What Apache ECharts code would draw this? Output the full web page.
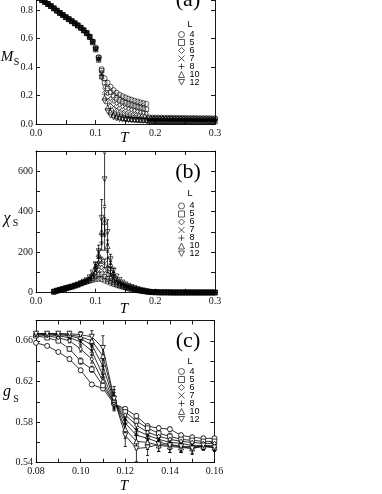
<!DOCTYPE html>
<html><head><meta charset="utf-8">
<script src="https://cdn.jsdelivr.net/npm/echarts@6/dist/echarts.min.js"></script>
<style>html,body{margin:0;padding:0;background:#fff}#c{width:382px;height:494px}</style>
</head><body><div id="c"></div>
<script>
// ---------- DATA ----------
const sizes = ['4','5','6','7','8','10','12'];

// Panel (a): M_S vs T
const Ta = [0.010,0.015,0.020,0.025,0.030,0.035,0.040,0.045,0.050,0.055,0.060,0.065,0.070,0.075,0.080,0.085,0.090,
  0.095,0.100,0.105,0.110,0.115,0.120,0.125,0.130,0.135,0.140,0.145,0.150,0.155,0.160,0.165,0.170,0.175,0.180,0.185,
  0.190,0.195,0.200,0.205,0.210,0.215,0.220,0.225,0.230,0.235,0.240,0.245,0.250,0.255,0.260,0.265,0.270,0.275,0.280,0.285,0.290,0.295,0.300];
const aLow = [0.870,0.857,0.843,0.828,0.812,0.796,0.780,0.765,0.750,0.736,0.722,0.707,0.692,0.676,0.658,0.638,0.612];
const aMid4  = [0.580,0.535,0.470,0.385,0.320,0.290,0.262,0.238,0.220,0.206,0.195,0.186,0.178,0.171,0.164,0.158,0.152,0.147,0.142];
const aMid5  = [0.578,0.532,0.465,0.375,0.290,0.250,0.222,0.200,0.184,0.170,0.158,0.149,0.140,0.133,0.126,0.120,0.114,0.108,0.103];
const aMid6  = [0.577,0.530,0.462,0.365,0.262,0.212,0.180,0.160,0.145,0.133,0.123,0.114,0.107,0.100,0.094,0.088,0.083,0.079,0.075];
const aMid7  = [0.576,0.528,0.458,0.355,0.235,0.175,0.143,0.123,0.108,0.097,0.089,0.082,0.076,0.071,0.067,0.063,0.059,0.056,0.053];
const aMid8  = [0.575,0.526,0.455,0.345,0.210,0.142,0.110,0.090,0.078,0.069,0.062,0.057,0.053,0.049,0.046,0.044,0.042,0.040,0.038];
const aMid10 = [0.574,0.524,0.452,0.335,0.185,0.115,0.083,0.065,0.055,0.048,0.043,0.040,0.037,0.035,0.033,0.031,0.030,0.029,0.028];
const aMid12 = [0.573,0.522,0.450,0.325,0.160,0.090,0.060,0.046,0.039,0.034,0.031,0.029,0.027,0.026,0.025,0.024,0.023,0.022,0.022];
const aHigh4  = [0.046,0.046,0.045,0.045,0.045,0.044,0.044,0.044,0.043,0.043,0.043,0.043,0.042,0.042,0.042,0.042,0.041,0.041,0.041,0.041,0.041,0.040,0.040];
const aHigh5  = [0.039,0.038,0.038,0.038,0.037,0.037,0.037,0.037,0.036,0.036,0.036,0.036,0.036,0.035,0.035,0.035,0.035,0.035,0.035,0.034,0.034,0.034,0.034];
const aHigh6  = [0.033,0.033,0.032,0.032,0.032,0.032,0.031,0.031,0.031,0.031,0.031,0.030,0.030,0.030,0.030,0.030,0.030,0.030,0.029,0.029,0.029,0.029,0.029];
const aHigh7  = [0.029,0.028,0.028,0.028,0.028,0.027,0.027,0.027,0.027,0.027,0.026,0.026,0.026,0.026,0.026,0.026,0.026,0.025,0.025,0.025,0.025,0.025,0.025];
const aHigh8  = [0.026,0.025,0.025,0.025,0.025,0.024,0.024,0.024,0.024,0.024,0.024,0.023,0.023,0.023,0.023,0.023,0.023,0.023,0.022,0.022,0.022,0.022,0.022];
const aHigh10 = [0.022,0.022,0.021,0.021,0.021,0.021,0.021,0.020,0.020,0.020,0.020,0.020,0.020,0.020,0.019,0.019,0.019,0.019,0.019,0.019,0.019,0.019,0.019];
const aHigh12 = [0.019,0.019,0.018,0.018,0.018,0.018,0.018,0.017,0.017,0.017,0.017,0.017,0.017,0.017,0.017,0.016,0.016,0.016,0.016,0.016,0.016,0.016,0.016];
// the top of panel (a) is cut off by the picture edge
const aVisibleMax = 0.8708;

// Panel (b): chi_S vs T
const Tb = [0.030,0.035,0.040,0.045,0.050,0.055,0.060,0.065,0.070,0.075,
  0.080,0.085,0.090,0.095,0.100,0.105,0.110,0.115,0.120,0.125,0.130,0.135,0.140,0.145,0.150,0.155,0.160,0.165,0.170,0.175,0.180,0.185,
  0.190,0.195,0.200,0.205,0.210,0.215,0.220,0.225,0.230,0.235,0.240,0.245,0.250,0.255,0.260,0.265,0.270,0.275,0.280,0.285,0.290,0.295,0.300];
const bLow = [5,10,14,18,22,26,30,35,40,46];
const bMid4  = [50,54,58,62,66,68,66,60,54,48,42,37,32,28,24,20,17,14,11,9,7,5];
const bMid5  = [51,56,62,70,80,90,92,80,68,58,50,43,37,32,27,23,19,16,13,10,8,6];
const bMid6  = [52,58,66,78,95,115,125,110,88,72,60,50,42,36,30,25,21,17,14,11,9,6];
const bMid7  = [52,59,69,85,108,140,160,145,112,88,70,57,47,39,33,28,23,19,15,12,9,7];
const bMid8  = [53,60,72,92,122,170,250,290,170,110,82,64,52,43,36,30,25,20,16,13,10,7];
const bMid10 = [53,61,74,96,132,190,300,350,230,140,96,72,58,47,39,32,27,22,17,14,10,7];
const bMid12 = [54,62,76,100,140,205,370,560,300,165,110,80,63,50,41,34,28,23,18,14,11,8];
const bHigh4  = [4,3,3,2,2,2,2,2,1,1,1,1,1,1,1,1,1,1,1,1,1,1,1];
const bHigh5  = [4,3,3,2,2,2,2,1,1,1,1,1,1,1,1,1,1,1,1,1,1,1,1];
const bHigh6  = [4,3,2,2,2,2,1,1,1,1,1,1,1,1,1,1,1,1,1,1,1,1,1];
const bHigh7  = [4,3,2,2,2,1,1,1,1,1,1,1,1,1,1,1,1,1,1,1,1,1,1];
const bHigh8  = [5,3,2,2,1,1,1,1,1,1,1,1,1,1,1,1,1,1,1,1,1,1,1];
const bHigh10 = [5,3,2,2,1,1,1,1,1,1,1,1,1,1,1,1,1,1,1,1,1,1,1];
const bHigh12 = [5,3,2,1,1,1,1,1,1,1,1,1,1,1,1,1,1,1,1,1,1,1,1];
// error bars near the peak
const bErrT  = [0.100,0.105,0.110,0.115,0.120,0.125,0.130];
const bErr7  = [3,8,15,20,12,6,3];
const bErr8  = [5,15,40,80,40,15,5];
const bErr10 = [8,20,60,70,30,15,6];
const bErr12 = [10,30,90,130,60,25,10];

// Panel (c): g_S vs T
const Tc = [0.080,0.085,0.090,0.095,0.100,0.105,0.110,0.115,0.120,0.125,0.130,0.135,0.140,0.145,0.150,0.155,0.160];
const c4  = [0.658,0.655,0.649,0.642,0.631,0.617,0.613,0.598,0.593,0.586,0.576,0.574,0.573,0.567,0.565,0.564,0.564];
const c5  = [0.665,0.663,0.660,0.652,0.640,0.632,0.616,0.599,0.590,0.581,0.574,0.569,0.566,0.563,0.562,0.561,0.561];
const c6  = [0.666,0.665,0.663,0.660,0.652,0.642,0.620,0.599,0.587,0.577,0.570,0.566,0.563,0.561,0.560,0.559,0.559];
const c7  = [0.667,0.666,0.665,0.663,0.659,0.650,0.626,0.600,0.583,0.572,0.567,0.563,0.560,0.559,0.557,0.557,0.557];
const c8  = [0.667,0.667,0.666,0.665,0.662,0.656,0.635,0.601,0.579,0.567,0.564,0.560,0.558,0.556,0.556,0.556,0.555];
const c10 = [0.667,0.667,0.667,0.666,0.664,0.660,0.645,0.602,0.573,0.561,0.560,0.557,0.556,0.555,0.554,0.556,0.555];
const c12 = [0.667,0.667,0.667,0.667,0.666,0.664,0.653,0.603,0.567,0.554,0.555,0.558,0.557,0.556,0.554,0.557,0.555];
const cErr4  = [0.001,0.001,0.001,0.002,0.002,0.002,0.002,0.002,0.002,0.002,0.002,0.002,0.002,0.002,0.002,0.002,0.002];
const cErr5  = [0.001,0.001,0.001,0.002,0.003,0.003,0.003,0.003,0.003,0.003,0.003,0.003,0.003,0.003,0.003,0.002,0.002];
const cErr6  = [0.001,0.001,0.001,0.002,0.003,0.004,0.004,0.004,0.004,0.004,0.004,0.004,0.003,0.003,0.003,0.003,0.002];
const cErr7  = [0.001,0.001,0.001,0.002,0.003,0.004,0.006,0.006,0.005,0.005,0.005,0.004,0.004,0.004,0.004,0.003,0.003];
const cErr8  = [0.001,0.001,0.001,0.002,0.003,0.005,0.008,0.008,0.007,0.006,0.006,0.005,0.005,0.005,0.004,0.003,0.003];
const cErr10 = [0.001,0.001,0.001,0.002,0.003,0.005,0.010,0.010,0.009,0.008,0.007,0.006,0.006,0.005,0.005,0.004,0.003];
const cErr12 = [0.001,0.001,0.001,0.002,0.003,0.006,0.012,0.012,0.011,0.013,0.008,0.007,0.007,0.006,0.006,0.004,0.004];

// ---------- BUILD ----------
const aMid = [aMid4,aMid5,aMid6,aMid7,aMid8,aMid10,aMid12];
const aHigh = [aHigh4,aHigh5,aHigh6,aHigh7,aHigh8,aHigh10,aHigh12];
const bMid = [bMid4,bMid5,bMid6,bMid7,bMid8,bMid10,bMid12];
const bHigh = [bHigh4,bHigh5,bHigh6,bHigh7,bHigh8,bHigh10,bHigh12];
const bErr = [null,null,null,bErr7,bErr8,bErr10,bErr12];
const cVals = [c4,c5,c6,c7,c8,c10,c12];
const cErrs = [cErr4,cErr5,cErr6,cErr7,cErr8,cErr10,cErr12];

const marks = [
  {symbol:'circle', size:5},
  {symbol:'rect', size:4.5},
  {symbol:'diamond', size:[3.5,4.5]},
  {symbol:'path://M0,0L10,10M10,0L0,10', size:4.5},
  {symbol:'path://M5,0L5,10M0,5L10,5', size:5},
  {symbol:'triangle', size:5},
  {symbol:'path://M0,0L10,0L5,9Z', size:5}
];

const zip = (T, ys) => T.map((t,i) => [t, ys[i]]);
const serif = 'Liberation Serif';

function xAx(p, pos, min, max, interval, fmt, show) {
  return {type:'value', gridIndex:p, position:pos, min, max, interval, show: show !== false,
    axisLine:{show:true, onZero:false, lineStyle:{color:'#000', width:0.9}},
    axisTick:{show:true, inside:true, length:4, lineStyle:{color:'#000', width:0.9}},
    splitLine:{show:false},
    axisLabel: pos === 'bottom' ? {show:true, formatter:fmt, margin:4, color:'#111', fontFamily:serif, fontSize:10} : {show:false}};
}
function yAx(p, pos, min, max, interval, fmt) {
  return {type:'value', gridIndex:p, position:pos, min, max, interval,
    axisLine:{show:true, onZero:false, lineStyle:{color:'#000', width:0.9}},
    axisTick:{show:true, inside:true, length:4, lineStyle:{color:'#000', width:0.9}},
    splitLine:{show:false},
    axisLabel: pos === 'left' ? {show:true, formatter:fmt, margin:3, color:'#111', fontFamily:serif, fontSize:10} : {show:false}};
}
const fmtA = v => (Math.round(v*100) % 10 === 0 ? v.toFixed(1) : '');
const fmtAy = v => (Math.abs(v*5 - Math.round(v*5)) < 1e-6 ? v.toFixed(1) : '');
const fmtBy = v => (Math.round(v) % 200 === 0 ? String(Math.round(v)) : '');
const fmtCx = v => (Math.round(v*100) % 2 === 0 ? v.toFixed(2) : '');
const fmtCy = v => (Math.round((v-0.54)/0.02) % 2 === 0 ? v.toFixed(2) : '');

const xAxis = [
  xAx(0,'bottom',0,0.3,0.05,fmtA), xAx(0,'top',0,0.3,0.05,null,false),
  xAx(1,'bottom',0,0.3,0.05,fmtA), xAx(1,'top',0,0.3,0.05),
  xAx(2,'bottom',0.08,0.16,0.01,fmtCx), xAx(2,'top',0.08,0.16,0.01)
];
const yAxis = [
  yAx(0,'left',0,aVisibleMax,0.2,fmtAy), yAx(0,'right',0,aVisibleMax,0.2),
  yAx(1,'left',0,700,100,fmtBy), yAx(1,'right',0,700,100),
  yAx(2,'left',0.54,0.68,0.02,fmtCy), yAx(2,'right',0.54,0.68,0.02)
];

const series = [];
sizes.forEach((L, k) => {
  const m = marks[k];
  const hollow = {color:'none', borderColor:'#000', borderWidth:0.8};
  series.push({type:'scatter', name:L, xAxisIndex:0, yAxisIndex:0, symbol:m.symbol, symbolSize:m.size,
    itemStyle:hollow, data: zip(Ta, aLow.concat(aMid[k], aHigh[k])), z:3, clip:false});
  series.push({type:'scatter', name:L, xAxisIndex:2, yAxisIndex:2, symbol:m.symbol, symbolSize:m.size,
    itemStyle:hollow, data: zip(Tb, bLow.concat(bMid[k], bHigh[k])), z:3});
  series.push({type:'line', name:L, xAxisIndex:4, yAxisIndex:4, symbol:m.symbol, symbolSize:m.size,
    showAllSymbol:true, lineStyle:{color:'#000', width:0.8},
    itemStyle:{color:'#fff', borderColor:'#000', borderWidth:0.8}, data: zip(Tc, cVals[k]), z:3});
});

// error bars
const errB = [];
sizes.forEach((L,k) => {
  if (!bErr[k]) return;
  const vals = bLow.concat(bMid[k], bHigh[k]);
  bErrT.forEach((t,i) => {
    const idx = Tb.findIndex(x => Math.abs(x - t) < 1e-9);
    errB.push([t, vals[idx] - bErr[k][i], vals[idx] + bErr[k][i]]);
  });
});
const errC = [];
sizes.forEach((L,k) => {
  Tc.forEach((t,i) => errC.push([t, cVals[k][i] - cErrs[k][i], cVals[k][i] + cErrs[k][i]]));
});
function renderErr(params, api) {
  const x = api.value(0);
  const p1 = api.coord([x, api.value(1)]);
  const p2 = api.coord([x, api.value(2)]);
  const w = 1.6;
  const st = {stroke:'#000', lineWidth:0.8};
  return {type:'group', children:[
    {type:'line', shape:{x1:p1[0], y1:p1[1], x2:p2[0], y2:p2[1]}, style:st},
    {type:'line', shape:{x1:p1[0]-w, y1:p1[1], x2:p1[0]+w, y2:p1[1]}, style:st},
    {type:'line', shape:{x1:p2[0]-w, y1:p2[1], x2:p2[0]+w, y2:p2[1]}, style:st}
  ]};
}
series.push({type:'custom', name:'errB', xAxisIndex:2, yAxisIndex:2, renderItem:renderErr, encode:{x:0, y:[1,2]}, data:errB, z:2, silent:true});
series.push({type:'custom', name:'errC', xAxisIndex:4, yAxisIndex:4, renderItem:renderErr, encode:{x:0, y:[1,2]}, data:errC, z:2, silent:true});

const legendData = sizes.map((L,k) => ({name:L, icon:marks[k].symbol,
  itemStyle:{color:'none', borderColor:'#000', borderWidth:0.8}}));
const legendTops = [29, 200.5, 366];
const legend = legendTops.map(t => ({orient:'vertical', left:176, top:t, padding:0, itemWidth:6, itemHeight:6, itemGap:-3,
  selectedMode:false, data:legendData,
  textStyle:{fontFamily:'Liberation Sans', fontSize:9, lineHeight:8, color:'#000'}}));

function txt(x, y, s, font) {
  return {type:'text', x, y, style:{text:s, font, fill:'#000', align:'center', verticalAlign:'middle',
    textAlign:'center', textVerticalAlign:'middle'}};
}
const graphic = [
  txt(188, 0, '(a)', '22px "Liberation Serif"'),
  txt(188, 172.5, '(b)', '22px "Liberation Serif"'),
  txt(188, 341, '(c)', '22px "Liberation Serif"'),
  txt(190, 25, 'L', '9px "Liberation Sans"'),
  txt(190, 194, 'L', '9px "Liberation Sans"'),
  txt(190, 361.5, 'L', '9px "Liberation Sans"'),
  txt(124.5, 138.5, 'T', 'italic 15px "Liberation Serif"'),
  txt(124, 309.5, 'T', 'italic 15px "Liberation Serif"'),
  txt(124, 486, 'T', 'italic 15px "Liberation Serif"'),
  txt(7, 57.5, 'M', 'italic 15px "Liberation Serif"'),
  txt(16.5, 62.5, 'S', '10px "Liberation Serif"'),
  txt(7, 219, 'χ', 'italic 16px "Liberation Serif"'),
  txt(15.5, 223, 'S', '10px "Liberation Serif"'),
  txt(7, 392, 'g', 'italic 16px "Liberation Serif"'),
  txt(16, 399, 'S', '10px "Liberation Serif"')
];

const option = {
  backgroundColor:'#fff',
  animation:false,
  grid:[
    {left:36, top:0, width:179, height:124},
    {left:36, top:151, width:179, height:141.7},
    {left:36, top:320.5, width:178.5, height:142.2}
  ],
  xAxis, yAxis, series, legend, graphic
};
const chart = echarts.init(document.getElementById('c'), null, {renderer:'canvas'});
chart.setOption(option);
</script></body></html>
